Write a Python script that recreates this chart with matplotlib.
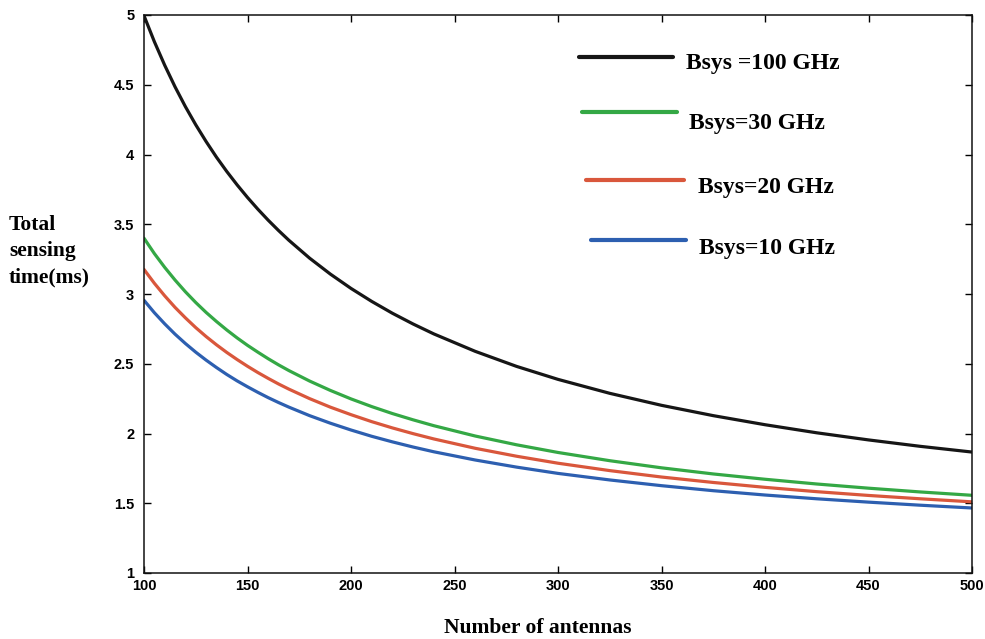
import matplotlib
matplotlib.use("Agg")
import matplotlib.pyplot as plt
from matplotlib.lines import Line2D
from matplotlib import font_manager

# Number of antennas
antennas = [100, 105, 110, 115, 120, 125, 130, 135, 140, 145, 150, 155, 160, 165, 170,
            180, 190, 200, 210, 220, 230, 240, 260, 280, 300, 325, 350, 375, 400,
            425, 450, 475, 500]

# Total sensing time (ms)
bsys_100 = [4.995, 4.809, 4.640, 4.485, 4.343, 4.213, 4.093, 3.981, 3.878, 3.782,
            3.692, 3.608, 3.529, 3.455, 3.385, 3.257, 3.143, 3.040, 2.947, 2.862,
            2.785, 2.714, 2.589, 2.481, 2.388, 2.288, 2.202, 2.128, 2.063, 2.005,
            1.954, 1.908, 1.867]
bsys_30 = [3.400, 3.290, 3.191, 3.100, 3.016, 2.939, 2.868, 2.803, 2.742, 2.685,
           2.632, 2.583, 2.536, 2.492, 2.451, 2.376, 2.309, 2.248, 2.193, 2.143,
           2.098, 2.056, 1.982, 1.919, 1.864, 1.805, 1.754, 1.710, 1.672, 1.638,
           1.608, 1.581, 1.557]
bsys_20 = [3.176, 3.077, 2.987, 2.904, 2.829, 2.759, 2.695, 2.636, 2.581, 2.530,
           2.482, 2.437, 2.395, 2.355, 2.318, 2.250, 2.189, 2.135, 2.085, 2.040,
           1.999, 1.961, 1.894, 1.837, 1.787, 1.734, 1.688, 1.649, 1.614, 1.583,
           1.556, 1.532, 1.510]
bsys_10 = [2.955, 2.866, 2.786, 2.712, 2.645, 2.583, 2.526, 2.473, 2.423, 2.377,
           2.335, 2.295, 2.257, 2.222, 2.189, 2.128, 2.074, 2.025, 1.980, 1.940,
           1.903, 1.869, 1.810, 1.759, 1.714, 1.667, 1.626, 1.590, 1.559, 1.532,
           1.508, 1.486, 1.466]

series_labels = ["Bsys =100 GHz", "Bsys=30 GHz", "Bsys=20 GHz", "Bsys=10 GHz"]
series_colors = ["#161616", "#34a845", "#d9573c", "#2d5fb0"]

x_ticks = [100, 150, 200, 250, 300, 350, 400, 450, 500]
x_tick_labels = ["100", "150", "200", "250", "300", "350", "400", "450", "500"]
y_ticks = [1, 1.5, 2, 2.5, 3, 3.5, 4, 4.5, 5]
y_tick_labels = ["1", "1.5", "2", "2.5", "3", "3.5", "4", "4.5", "5"]

names = {f.name for f in font_manager.fontManager.ttflist}
tick_family = "Liberation Sans Narrow" if "Liberation Sans Narrow" in names else "Liberation Sans"

W, H = 985, 639
fig = plt.figure(figsize=(W / 100, H / 100), dpi=100)
fig.patch.set_facecolor("white")
ax = fig.add_axes([144 / W, 1 - 573 / H, (972 - 144) / W, (573 - 15) / H])

all_series = [bsys_100, bsys_30, bsys_20, bsys_10]
for ys, c in zip(all_series, series_colors):
    ax.plot(antennas, ys, color=c, lw=2.3, solid_capstyle="round",
            solid_joinstyle="round")

ax.set_xlim(100, 500)
ax.set_ylim(1, 5)
ax.set_xticks(x_ticks)
ax.set_xticklabels(x_tick_labels)
ax.set_yticks(y_ticks)
ax.set_yticklabels(y_tick_labels)
ax.tick_params(direction="in", length=5, width=1.0, top=True, right=True,
               labelsize=10.5)
ax.tick_params(axis="x", pad=4)
ax.tick_params(axis="y", pad=7)
for lab in ax.get_xticklabels() + ax.get_yticklabels():
    lab.set_fontfamily(tick_family)
    lab.set_fontweight("bold")
for s in ax.spines.values():
    s.set_linewidth(1.1)
    s.set_color("#111111")

# axis labels
serif = "Liberation Serif"
fig.text(538 / W, 1 - 628 / H, "Number of antennas", ha="center", va="center",
         fontsize=15.5, fontweight="bold", family=serif)
fig.text(9 / W, 1 - 251 / H, "Total\nsensing\ntime(ms)", ha="left", va="center",
         fontsize=15.5, fontweight="bold", family=serif, linespacing=1.4)

# legend (drawn as in the original, free-floating entries)
leg_lines = [(579, 673, 57), (582, 677, 112), (586, 684, 180), (591, 686, 240)]
leg_text = [(686, 64), (689, 123), (698, 187), (699, 248)]
for (x0, x1, y), (tx, ty), lab, c in zip(leg_lines, leg_text, series_labels, series_colors):
    fig.add_artist(Line2D([x0 / W, x1 / W], [1 - y / H, 1 - y / H], color=c, lw=3.0,
                          solid_capstyle="round", transform=fig.transFigure))
    fig.text(tx / W, 1 - ty / H, lab, ha="left", va="center", fontsize=17,
             fontweight="bold", family=serif)

fig.savefig("out.png", dpi=100)
